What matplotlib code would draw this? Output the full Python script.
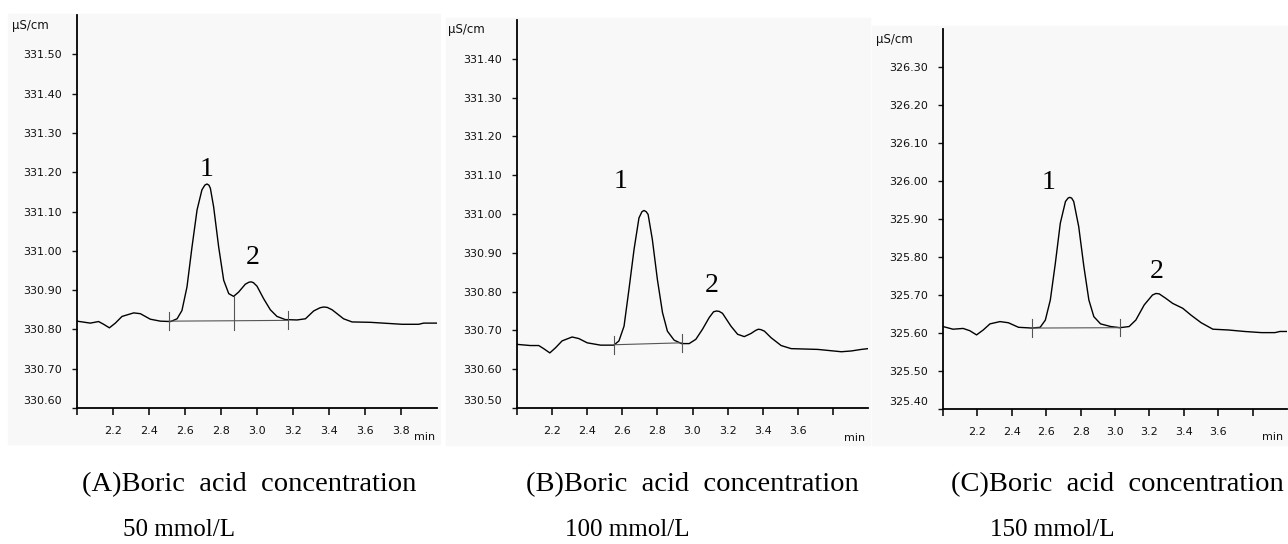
import matplotlib
matplotlib.use('Agg')
from matplotlib import pyplot as plt
from matplotlib import transforms

# chromatogram A - boric acid 50 mmol/L
rt_a = [2.0, 2.074, 2.12, 2.148, 2.18, 2.213, 2.25, 2.315, 2.352, 2.407, 2.463, 2.52,
        2.556, 2.583, 2.611, 2.639, 2.667, 2.694, 2.71, 2.722, 2.733, 2.741, 2.759,
        2.787, 2.815, 2.843, 2.870, 2.898, 2.935, 2.955, 2.967, 2.98, 3.0, 3.037,
        3.074, 3.111, 3.157, 3.222, 3.269, 3.315, 3.35, 3.370, 3.39, 3.417, 3.481,
        3.528, 3.63, 3.806, 3.898, 3.926, 4.0]
sig_a = [330.821, 330.816, 330.820, 330.813, 330.804, 330.816, 330.833, 330.842, 330.840,
         330.826, 330.821, 330.820, 330.827, 330.848, 330.908, 331.010, 331.104, 331.155,
         331.167, 331.170, 331.167, 331.159, 331.112, 331.010, 330.925, 330.891, 330.884,
         330.895, 330.915, 330.920, 330.921, 330.919, 330.910, 330.878, 330.850, 330.833,
         330.825, 330.824, 330.827, 330.847, 330.855, 330.857, 330.856, 330.850, 330.827,
         330.819, 330.818, 330.813, 330.813, 330.816, 330.816]
base_a_x = [2.513, 2.870, 3.170]
base_a_y = [330.821, 330.822, 330.823]
drop_a_top = [None, 330.884, None]

# chromatogram B - boric acid 100 mmol/L
rt_b = [2.0, 2.076, 2.124, 2.152, 2.187, 2.219, 2.257, 2.314, 2.352, 2.40, 2.476, 2.552,
        2.581, 2.61, 2.638, 2.667, 2.695, 2.712, 2.724, 2.736, 2.747, 2.771, 2.80, 2.829,
        2.857, 2.895, 2.937, 2.981, 3.019, 3.057, 3.095, 3.12, 3.137, 3.152, 3.171, 3.219,
        3.257, 3.295, 3.333, 3.36, 3.375, 3.39, 3.41, 3.448, 3.505, 3.562, 3.714, 3.848,
        3.905, 3.962, 4.0]
sig_b = [330.664, 330.661, 330.661, 330.653, 330.642, 330.655, 330.673, 330.683, 330.679,
         330.668, 330.662, 330.662, 330.673, 330.711, 330.806, 330.909, 330.990, 331.006,
         331.009, 331.006, 330.999, 330.935, 330.831, 330.746, 330.698, 330.675, 330.666,
         330.666, 330.677, 330.703, 330.733, 330.748, 330.750, 330.749, 330.744, 330.711,
         330.690, 330.684, 330.692, 330.700, 330.703, 330.702, 330.698, 330.681, 330.661,
         330.653, 330.651, 330.645, 330.647, 330.651, 330.653]
base_b_x = [2.552, 2.939]
base_b_y = [330.663, 330.668]

# chromatogram C - boric acid 150 mmol/L
rt_c = [2.0, 2.058, 2.117, 2.156, 2.195, 2.234, 2.273, 2.331, 2.38, 2.439, 2.517, 2.565,
        2.595, 2.624, 2.653, 2.682, 2.712, 2.727, 2.737, 2.748, 2.76, 2.789, 2.819, 2.848,
        2.877, 2.916, 2.975, 3.029, 3.082, 3.121, 3.17, 3.218, 3.238, 3.257, 3.296, 3.335,
        3.394, 3.442, 3.501, 3.569, 3.657, 3.754, 3.852, 3.93, 3.959, 4.0]
sig_c = [325.617, 325.610, 325.612, 325.606, 325.595, 325.608, 325.624, 325.630, 325.627,
         325.615, 325.613, 325.615, 325.634, 325.687, 325.783, 325.889, 325.946, 325.955,
         325.957, 325.955, 325.946, 325.880, 325.775, 325.687, 325.643, 325.624, 325.617,
         325.614, 325.617, 325.634, 325.674, 325.700, 325.704, 325.703, 325.691, 325.678,
         325.665, 325.647, 325.627, 325.610, 325.608, 325.604, 325.601, 325.601, 325.604,
         325.604]
base_c_x = [2.517, 3.029]
base_c_y = [325.613, 325.614]

yticks_a = [330.60, 330.70, 330.80, 330.90, 331.00, 331.10, 331.20, 331.30, 331.40, 331.50]
yticks_b = [330.50, 330.60, 330.70, 330.80, 330.90, 331.00, 331.10, 331.20, 331.30, 331.40]
yticks_c = [325.40, 325.50, 325.60, 325.70, 325.80, 325.90, 326.00, 326.10, 326.20, 326.30]
xticks = [2.0, 2.2, 2.4, 2.6, 2.8, 3.0, 3.2, 3.4, 3.6, 3.8]
xlab_a = ['', '2.2', '2.4', '2.6', '2.8', '3.0', '3.2', '3.4', '3.6', '3.8']
xlab_bc = ['', '2.2', '2.4', '2.6', '2.8', '3.0', '3.2', '3.4', '3.6', '']

captions = ['(A)Boric  acid  concentration', '(B)Boric  acid  concentration',
            '(C)Boric  acid  concentration']
concs = ['50 mmol/L', '100 mmol/L', '150 mmol/L']

W, H = 1288, 544
fig = plt.figure(figsize=(12.88, 5.44), dpi=100)


def px(x, y):
    return x / W, 1 - y / H


# light gray panels behind each chromatogram
for (x0, y0, x1, y1) in [(8, 14, 440, 444), (446, 18, 870, 445), (872, 26, 1288, 445)]:
    fig.patches.append(plt.Rectangle(px(x0, y1), (x1 - x0) / W, (y1 - y0) / H,
                                     transform=fig.transFigure, color='#f8f8f8', zorder=-5))

panels = [
    dict(box=(77, 15, 437, 408), rt=rt_a, sig=sig_a, ylim=(330.60, 331.60), yt=yticks_a,
         xl=xlab_a, bx=base_a_x, by=base_a_y, n1=(2.722, 331.206), n2=(2.978, 330.984),
         unit=(12, 26), mn=(425, 437)),
    dict(box=(517, 20, 868, 408), rt=rt_b, sig=sig_b, ylim=(330.50, 331.50), yt=yticks_b,
         xl=xlab_bc, bx=base_b_x, by=base_b_y, n1=(2.589, 331.084), n2=(3.109, 330.816),
         unit=(448, 30), mn=(855, 438)),
    dict(box=(943, 29, 1287, 409), rt=rt_c, sig=sig_c, ylim=(325.40, 326.40), yt=yticks_c,
         xl=xlab_bc, bx=base_c_x, by=base_c_y, n1=(2.614, 325.995), n2=(3.240, 325.761),
         unit=(876, 40), mn=(1273, 437)),
]

for i, p in enumerate(panels):
    x0, y0, x1, y1 = p['box']
    ax = fig.add_axes([x0 / W, 1 - y1 / H, (x1 - x0) / W, (y1 - y0) / H])
    ax.set_zorder(2)
    ax.set_facecolor('none')
    ax.plot(p['rt'], p['sig'], color='black', lw=1.0)
    # integration baseline with its little marks
    ax.plot(p['bx'], p['by'], color='#555555', lw=0.8)
    for j, (bx, by) in enumerate(zip(p['bx'], p['by'])):
        top = by + 0.023
        if i == 0 and drop_a_top[j] is not None:
            top = drop_a_top[j]
        ax.plot([bx, bx], [by - 0.023, top], color='#555555', lw=0.8)
    ax.text(p['n1'][0], p['n1'][1], '1', fontsize=20, family='Liberation Serif',
            ha='center', va='center')
    ax.text(p['n2'][0], p['n2'][1], '2', fontsize=20, family='Liberation Serif',
            ha='center', va='center')

    ax.set_xlim(2.0, 4.0)
    ax.set_ylim(*p['ylim'])
    ax.set_xticks(xticks)
    ax.set_xticklabels(p['xl'])
    ax.set_yticks(p['yt'])
    ax.set_yticklabels(['%.2f' % v for v in p['yt']])
    for s in ['top', 'right']:
        ax.spines[s].set_visible(False)
    for s in ['left', 'bottom']:
        ax.spines[s].set_linewidth(1.3)
    ax.tick_params(axis='x', length=5, width=1.2, pad=8, labelsize=8, colors='#111111')
    ax.tick_params(axis='y', length=3.5, width=1, pad=7.5, labelsize=8, colors='#111111')
    # lowest y label sits a little above the axis line
    lab = ax.get_yticklabels()[0]
    lab.set_transform(lab.get_transform() + transforms.ScaledTranslation(0, 8 / 100, fig.dpi_scale_trans))

    ux, uy = px(*p['unit'])
    fig.text(ux, uy, 'μS/cm', fontsize=8.5, ha='left', va='center', color='#111111')
    mx, my = px(*p['mn'])
    fig.text(mx, my, 'min', fontsize=8, ha='center', va='center', color='#111111')

cap_x = [82, 526, 951]
conc_x = [123, 565, 990]
for i in range(3):
    cx, cy = px(cap_x[i], 485)
    fig.text(cx, cy, captions[i], fontsize=20.5, family='Liberation Serif', ha='left', va='center')
    cx, cy = px(conc_x[i], 530)
    fig.text(cx, cy, concs[i], fontsize=18, family='Liberation Serif', ha='left', va='center')

plt.savefig('out.png', dpi=100)
